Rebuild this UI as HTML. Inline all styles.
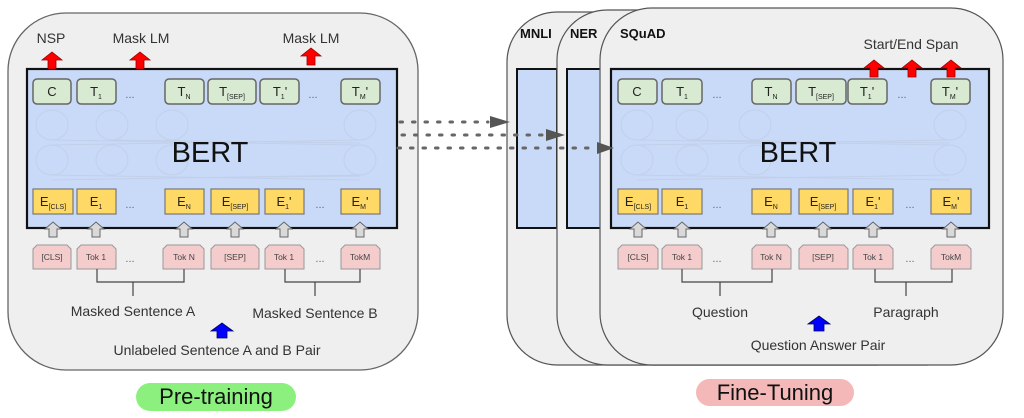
<!DOCTYPE html>
<html><head><meta charset="utf-8"><style>
html,body{margin:0;padding:0;background:#fff;}
svg{display:block;font-family:"Liberation Sans",sans-serif;}
.tb{fill:#d9ead3;stroke:#666;stroke-width:1.5;}
.eb{fill:#ffd966;stroke:#777;stroke-width:1.2;}
.kb{fill:#f4cccc;stroke:#999;stroke-width:1;}
.ga{fill:#d9d9d9;stroke:#666;stroke-width:1;}
.t{font-size:13px;fill:#222;text-anchor:middle;}
.k{font-size:8.5px;fill:#444;text-anchor:middle;}
.s{font-size:7px;}
.lab{font-size:14px;fill:#333;text-anchor:middle;}
.ell{fill:none;stroke:#bfcbe3;stroke-width:1;opacity:0.7;}
.dot{font-size:11px;fill:#666;text-anchor:middle;}
</style></head><body>
<svg width="1024" height="418" viewBox="0 0 1024 418">
<defs>
<g id="garr"><polygon class="ga" points="-4,15 -4,7 -8,7 0,0 8,7 4,7 4,15"/></g>
<g id="rarr"><polygon points="-4,17 -4,8 -10,8 0,0 10,8 4,8 4,17" fill="#f00" stroke="#900" stroke-width="0.8"/></g>
<g id="barr"><polygon points="-5,15 -5,8 -11,8 0,0 11,8 5,8 5,15" fill="#00f" stroke="#006" stroke-width="0.8"/></g>
</defs>

<rect x="8" y="13" width="410" height="357" rx="58" fill="#efefef" stroke="#666" stroke-width="1.3"/>
<rect x="27" y="69" width="370" height="159" fill="#c9daf8" stroke="#111" stroke-width="2.2"/>
<g class="ell">
<ellipse cx="52" cy="125" rx="16" ry="15"/><ellipse cx="112" cy="125" rx="16" ry="15"/><ellipse cx="172" cy="125" rx="16" ry="15"/><ellipse cx="360" cy="125" rx="16" ry="15"/>
<ellipse cx="52" cy="160" rx="16" ry="15"/><ellipse cx="112" cy="160" rx="16" ry="15"/><ellipse cx="172" cy="160" rx="16" ry="15"/><ellipse cx="360" cy="160" rx="16" ry="15"/>
<path d="M52,140 L360,145 M52,145 L360,140 M112,140 L360,143 M52,175 L360,180 M52,180 L360,175 M172,178 L360,176"/>
</g>
<text x="210" y="162" font-size="29" fill="#111" text-anchor="middle">BERT</text>

<text x="51" y="43" class="lab">NSP</text>
<text x="141" y="43" class="lab">Mask LM</text>
<text x="311" y="43" class="lab">Mask LM</text>
<use href="#rarr" x="52" y="52"/><use href="#rarr" x="140" y="52"/><use href="#rarr" x="311" y="48"/>

<rect class="tb" x="33" y="79" width="38" height="25" rx="4"/><text class="t" x="52" y="96">C</text>
<rect class="tb" x="77" y="79" width="39" height="25" rx="4"/><text class="t" x="96" y="96">T<tspan class="s" dy="3">1</tspan></text>
<text class="dot" x="130" y="98">...</text>
<rect class="tb" x="165" y="79" width="39" height="25" rx="4"/><text class="t" x="184" y="96">T<tspan class="s" dy="3">N</tspan></text>
<rect class="tb" x="208" y="79" width="48" height="25" rx="4"/><text class="t" x="232" y="96">T<tspan class="s" dy="3">[SEP]</tspan></text>
<rect class="tb" x="260" y="79" width="39" height="25" rx="4"/><text class="t" x="280" y="96">T<tspan class="s" dy="3">1</tspan><tspan dy="-3">'</tspan></text>
<text class="dot" x="313" y="98">...</text>
<rect class="tb" x="341" y="79" width="39" height="25" rx="4"/><text class="t" x="360" y="96">T<tspan class="s" dy="3">M</tspan><tspan dy="-3">'</tspan></text>

<rect class="eb" x="33" y="189" width="40" height="25"/><text class="t" x="53" y="206">E<tspan class="s" dy="3">[CLS]</tspan></text>
<rect class="eb" x="77" y="189" width="39" height="25"/><text class="t" x="96" y="206">E<tspan class="s" dy="3">1</tspan></text>
<text class="dot" x="130" y="208">...</text>
<rect class="eb" x="165" y="189" width="39" height="25"/><text class="t" x="184" y="206">E<tspan class="s" dy="3">N</tspan></text>
<rect class="eb" x="211" y="189" width="48" height="25"/><text class="t" x="235" y="206">E<tspan class="s" dy="3">[SEP]</tspan></text>
<rect class="eb" x="265" y="189" width="39" height="25"/><text class="t" x="284" y="206">E<tspan class="s" dy="3">1</tspan><tspan dy="-3">'</tspan></text>
<text class="dot" x="320" y="208">...</text>
<rect class="eb" x="341" y="189" width="39" height="25"/><text class="t" x="360" y="206">E<tspan class="s" dy="3">M</tspan><tspan dy="-3">'</tspan></text>

<use href="#garr" x="53" y="222"/><use href="#garr" x="96" y="222"/><use href="#garr" x="184" y="222"/><use href="#garr" x="235" y="222"/><use href="#garr" x="284" y="222"/><use href="#garr" x="360" y="222"/>

<polygon class="kb" points="33,249 37,245 67,245 71,249 71,269 33,269"/><text class="k" x="52" y="260">[CLS]</text>
<polygon class="kb" points="77,249 81,245 112,245 116,249 116,269 77,269"/><text class="k" x="96" y="260">Tok 1</text>
<text class="dot" x="130" y="262">...</text>
<polygon class="kb" points="163,249 167,245 200,245 204,249 204,269 163,269"/><text class="k" x="184" y="260">Tok N</text>
<polygon class="kb" points="211,249 215,245 255,245 259,249 259,269 211,269"/><text class="k" x="235" y="260">[SEP]</text>
<polygon class="kb" points="265,249 269,245 300,245 304,249 304,269 265,269"/><text class="k" x="284" y="260">Tok 1</text>
<text class="dot" x="320" y="262">...</text>
<polygon class="kb" points="341,249 345,245 376,245 380,249 380,269 341,269"/><text class="k" x="360" y="260">TokM</text>

<path d="M97,269 V282 H184 V269 M133,282 V296 M285,269 V282 H360 V269 M315,282 V296" fill="none" stroke="#444" stroke-width="1.2"/>
<text class="lab" x="133" y="316">Masked Sentence A</text>
<text class="lab" x="315" y="318">Masked Sentence B</text>
<use href="#barr" x="222" y="323"/>
<text class="lab" x="217" y="355">Unlabeled Sentence A and B Pair</text>

<rect x="136" y="383" width="160" height="28" rx="14" fill="#8cf07e"/>
<text x="216" y="404" font-size="22" fill="#111" text-anchor="middle">Pre-training</text>

<rect x="507" y="12" width="420" height="353" rx="50" fill="#efefef" stroke="#555" stroke-width="1.2"/>
<rect x="517" y="69" width="40" height="159" fill="#c9daf8" stroke="#111" stroke-width="2"/>
<text x="520" y="38" font-size="13" font-weight="bold" fill="#111">MNLI</text>
<rect x="557" y="10" width="420" height="355" rx="50" fill="#efefef" stroke="#555" stroke-width="1.2"/>
<rect x="567" y="69" width="45" height="159" fill="#c9daf8" stroke="#111" stroke-width="2"/>
<text x="570" y="38" font-size="13" font-weight="bold" fill="#111">NER</text>
<rect x="600" y="8" width="403" height="357" rx="52" fill="#efefef" stroke="#555" stroke-width="1.2"/>
<text x="620" y="38" font-size="13" font-weight="bold" fill="#111">SQuAD</text>

<rect x="611" y="69" width="378" height="159" fill="#c9daf8" stroke="#111" stroke-width="2.2"/>
<g class="ell">
<ellipse cx="637" cy="125" rx="16" ry="15"/><ellipse cx="692" cy="125" rx="16" ry="15"/><ellipse cx="755" cy="125" rx="16" ry="15"/><ellipse cx="950" cy="125" rx="16" ry="15"/>
<ellipse cx="637" cy="160" rx="16" ry="15"/><ellipse cx="692" cy="160" rx="16" ry="15"/><ellipse cx="755" cy="160" rx="16" ry="15"/><ellipse cx="950" cy="160" rx="16" ry="15"/>
<path d="M637,140 L950,145 M637,145 L950,140 M692,140 L950,143 M637,175 L950,180 M637,180 L950,175"/>
</g>
<text x="798" y="162" font-size="29" fill="#111" text-anchor="middle">BERT</text>

<text x="911" y="49" class="lab">Start/End Span</text>
<use href="#rarr" x="874" y="60"/><use href="#rarr" x="912" y="60"/><use href="#rarr" x="951" y="60"/>

<rect class="tb" x="618" y="79" width="39" height="25" rx="4"/><text class="t" x="637" y="96">C</text>
<rect class="tb" x="662" y="79" width="40" height="25" rx="4"/><text class="t" x="682" y="96">T<tspan class="s" dy="3">1</tspan></text>
<text class="dot" x="717" y="98">...</text>
<rect class="tb" x="752" y="79" width="39" height="25" rx="4"/><text class="t" x="771" y="96">T<tspan class="s" dy="3">N</tspan></text>
<rect class="tb" x="796" y="79" width="50" height="25" rx="4"/><text class="t" x="821" y="96">T<tspan class="s" dy="3">[SEP]</tspan></text>
<rect class="tb" x="848" y="79" width="39" height="25" rx="4"/><text class="t" x="867" y="96">T<tspan class="s" dy="3">1</tspan><tspan dy="-3">'</tspan></text>
<text class="dot" x="902" y="98">...</text>
<rect class="tb" x="931" y="79" width="39" height="25" rx="4"/><text class="t" x="950" y="96">T<tspan class="s" dy="3">M</tspan><tspan dy="-3">'</tspan></text>

<rect class="eb" x="618" y="189" width="40" height="25"/><text class="t" x="638" y="206">E<tspan class="s" dy="3">[CLS]</tspan></text>
<rect class="eb" x="662" y="189" width="40" height="25"/><text class="t" x="682" y="206">E<tspan class="s" dy="3">1</tspan></text>
<text class="dot" x="717" y="208">...</text>
<rect class="eb" x="752" y="189" width="39" height="25"/><text class="t" x="771" y="206">E<tspan class="s" dy="3">N</tspan></text>
<rect class="eb" x="799" y="189" width="49" height="25"/><text class="t" x="823" y="206">E<tspan class="s" dy="3">[SEP]</tspan></text>
<rect class="eb" x="853" y="189" width="40" height="25"/><text class="t" x="873" y="206">E<tspan class="s" dy="3">1</tspan><tspan dy="-3">'</tspan></text>
<text class="dot" x="910" y="208">...</text>
<rect class="eb" x="931" y="189" width="40" height="25"/><text class="t" x="951" y="206">E<tspan class="s" dy="3">M</tspan><tspan dy="-3">'</tspan></text>

<use href="#garr" x="638" y="222"/><use href="#garr" x="682" y="222"/><use href="#garr" x="771" y="222"/><use href="#garr" x="823" y="222"/><use href="#garr" x="873" y="222"/><use href="#garr" x="951" y="222"/>

<polygon class="kb" points="618,249 622,245 654,245 658,249 658,269 618,269"/><text class="k" x="638" y="260">[CLS]</text>
<polygon class="kb" points="662,249 666,245 698,245 702,249 702,269 662,269"/><text class="k" x="682" y="260">Tok 1</text>
<text class="dot" x="717" y="262">...</text>
<polygon class="kb" points="752,249 756,245 787,245 791,249 791,269 752,269"/><text class="k" x="771" y="260">Tok N</text>
<polygon class="kb" points="799,249 803,245 844,245 848,249 848,269 799,269"/><text class="k" x="823" y="260">[SEP]</text>
<polygon class="kb" points="853,249 857,245 889,245 893,249 893,269 853,269"/><text class="k" x="873" y="260">Tok 1</text>
<text class="dot" x="910" y="262">...</text>
<polygon class="kb" points="931,249 935,245 967,245 971,249 971,269 931,269"/><text class="k" x="951" y="260">TokM</text>

<path d="M682,269 V282 H772 V269 M720,282 V296 M875,269 V282 H952 V269 M906,282 V296" fill="none" stroke="#444" stroke-width="1.2"/>
<text class="lab" x="720" y="317">Question</text>
<text class="lab" x="906" y="317">Paragraph</text>
<use href="#barr" x="819" y="316"/>
<text class="lab" x="818" y="350">Question Answer Pair</text>

<rect x="696" y="379" width="158" height="27" rx="13.5" fill="#f4b8b8"/>
<text x="775" y="400" font-size="22" fill="#111" text-anchor="middle">Fine-Tuning</text>

<g stroke="#666" stroke-width="3" stroke-dasharray="2.5,10" stroke-linecap="round">
<line x1="400" y1="122" x2="488" y2="122"/>
<line x1="402" y1="135" x2="544" y2="135"/>
<line x1="398" y1="148" x2="595" y2="148"/>
</g>
<polygon points="490,116 510,122 490,128" fill="#555"/>
<polygon points="546,129 565,135 546,141" fill="#555"/>
<polygon points="597,142 614,148 597,154" fill="#555"/>
</svg>
</body></html>
